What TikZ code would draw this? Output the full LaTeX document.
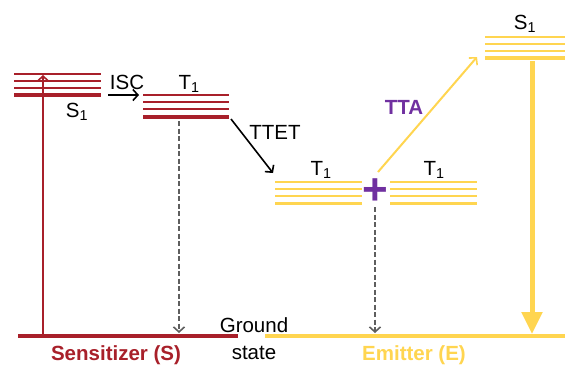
\documentclass[tikz,border=0pt]{standalone}
\usepackage{fontspec}
\setmainfont{Liberation Sans}
\usetikzlibrary{arrows.meta}
\definecolor{sensred}{HTML}{A8202A}
\definecolor{emityellow}{HTML}{FFD550}
\definecolor{ttapurple}{HTML}{7030A0}
\definecolor{decaygray}{HTML}{5E5E5E}
\tikzset{
  barb/.style={-{Straight Barb[length=5pt,width=11pt,line width=1.6pt]}},
  decay/.style={barb,decaygray,line width=2pt,dash pattern=on 5pt off 2.5pt},
  lbl/.style={inner sep=0pt}
}
\begin{document}
\begin{tikzpicture}[x=1pt,y=-1pt,line width=2.5pt,font=\fontsize{20.5}{22}\selectfont]
        \useasboundingbox (0,0) rectangle (565,365);

        % energy levels
        \foreach \d in {0, 7, 14}{
            \draw[sensred] (14, 74+\d) -- +(87, 0);
            \draw[sensred] (143, 95+\d) -- +(86, 0);
            \draw[emityellow] (275, 182+\d) -- +(87, 0);
            \draw[emityellow] (390, 182+\d) -- +(87, 0);
            \draw[emityellow] (485, 37+\d) -- +(80, 0);
        }
        \draw[sensred, line width=3.5pt] (14, 95) -- +(87, 0);
        \draw[sensred, line width=3.5pt] (143, 117) -- +(86, 0);
        \draw[emityellow, line width=3pt] (275, 203) -- +(87, 0);
        \draw[emityellow, line width=3pt] (390, 203) -- +(87, 0);
        \draw[emityellow, line width=3.5pt] (485, 58) -- +(80, 0);

        % ground states
        \draw[sensred, line width=4pt] (18, 336) coordinate (gsL) -- (238, 336) coordinate (gsR);
        \draw[emityellow, line width=4pt] (265, 336) coordinate (geL) -- (565, 336) coordinate (geR);

        % labels
        \node[lbl] (sS1) at (77, 112) {S\textsubscript{1}};
        \node[lbl] (sT1) at (189, 84) {T\textsubscript{1}};
        \node[lbl] (eT1a) at (321, 170) {T\textsubscript{1}};
        \node[lbl] (eT1b) at (434, 170) {T\textsubscript{1}};
        \node[lbl] (eS1) at (525, 24) {S\textsubscript{1}};
        \node[lbl] (isc) at (127, 82) {ISC};
        \node[lbl] (ttet) at (275, 132) {TTET};
        \node[lbl, ttapurple, font=\fontsize{20.5}{22}\selectfont\bfseries] (tta) at (404, 107) {TTA};
        \node[lbl, align=center, font=\fontsize{20.5}{27}\selectfont] (ground) at (254, 339) {Ground\\state};
        \node[lbl, sensred, font=\fontsize{20.5}{22}\selectfont\bfseries] (sens) at (116, 355) {Sensitizer (S)};
        \node[lbl, emityellow, font=\fontsize{20.5}{22}\selectfont\bfseries] (emit) at (414, 355) {Emitter (E)};
        \node[lbl, ttapurple, font=\fontsize{44}{44}\selectfont\bfseries] (plus) at (375, 192) {+};

        % transitions
        \coordinate (absB) at (43, 334);
        \coordinate (absT) at (43, 75);
        \draw[barb, sensred, line width=1.6pt] (absB) -- (absT);
        \coordinate (iscA) at (108, 95);
        \coordinate (iscB) at (139, 95);
        \draw[barb, black, line width=1.6pt] (iscA) -- (iscB);
        \coordinate (ttetA) at (231, 119);
        \coordinate (ttetB) at (273, 173);
        \draw[barb, black, line width=1.6pt] (ttetA) -- (ttetB);
        \coordinate (sDecA) at (179, 121);
        \coordinate (sDecB) at (179, 333);
        \draw[decay] (sDecA) -- (sDecB);
        \coordinate (eDecA) at (375, 207);
        \coordinate (eDecB) at (375, 333);
        \draw[decay] (eDecA) -- (eDecB);
        \coordinate (ttaA) at (378, 172);
        \coordinate (ttaB) at (477, 57);
        \draw[barb, emityellow, line width=2pt] (ttaA) -- (ttaB);
        \coordinate (emA) at (532, 61);
        \coordinate (emB) at (532, 334);
        \draw[-{Triangle[length=22pt,width=20pt]}, emityellow, line width=5pt] (emA) -- (emB);
    \end{tikzpicture}
\end{document}
